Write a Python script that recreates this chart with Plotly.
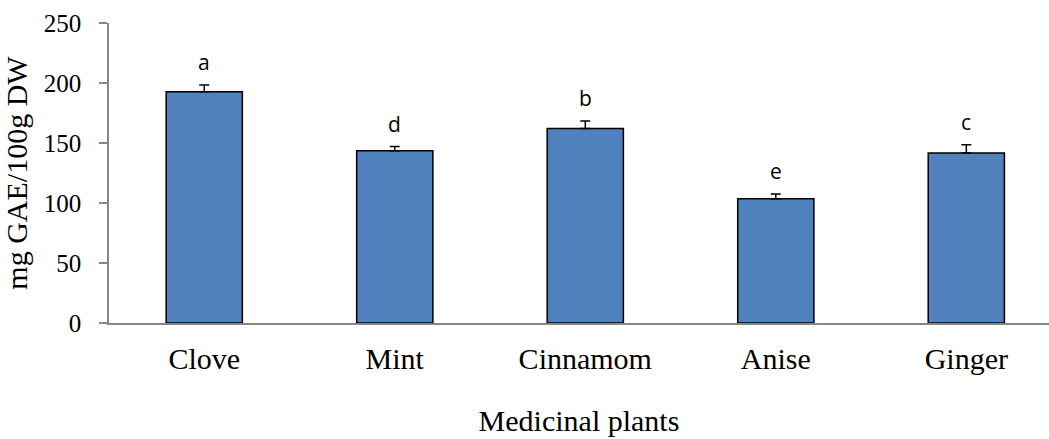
import plotly.graph_objects as go

categories = ["Clove", "Mint", "Cinnamom", "Anise", "Ginger"]
values = [192.8, 143.5, 162.0, 103.6, 141.6]
errors = [5.6, 3.5, 6.3, 4.0, 7.0]
letters = ["a", "d", "b", "e", "c"]
y_ticks = [0, 50, 100, 150, 200, 250]

fig = go.Figure()
fig.add_trace(go.Bar(
    x=categories, y=values, width=0.4,
    marker=dict(color="#4F81BD", line=dict(color="black", width=1.5)),
    error_y=dict(type="data", array=errors, arrayminus=[0]*len(errors), symmetric=False,
                 color="black", thickness=1.5, width=5),
))
for c, v, e, l in zip(categories, values, errors, letters):
    fig.add_annotation(x=c, y=v + e, text=l, showarrow=False, yanchor="bottom", yshift=7,
                       font=dict(family="Open Sans, Liberation Sans, sans-serif", size=21, color="black"))

serif = "Liberation Serif, Times New Roman, serif"
fig.update_layout(
    width=1049, height=439,
    margin=dict(l=109, r=0, t=23, b=116),
    plot_bgcolor="white", paper_bgcolor="white",
    showlegend=False,
    font=dict(family=serif, color="black"),
    xaxis=dict(range=[-0.5, 4.434], showline=True, linecolor="#868686", linewidth=2,
               ticks="", tickfont=dict(family=serif, size=30), ticklabelstandoff=8,
               automargin=False,
               title=dict(text="Medicinal plants", font=dict(family=serif, size=30), standoff=36)),
    yaxis=dict(range=[0, 250], tickvals=y_ticks, showline=True, linecolor="#868686", linewidth=1.5,
               ticks="outside", ticklen=8, tickcolor="#868686", tickwidth=1.5, automargin=False,
               showgrid=False, zeroline=False, tickfont=dict(family=serif, size=25), ticklabelstandoff=13,
               title=dict(text="mg GAE/100g DW", font=dict(family=serif, size=30), standoff=14)),
)
fig.write_html("out.html", config={"displayModeBar": False},
               post_script="document.body.style.margin='0';")
